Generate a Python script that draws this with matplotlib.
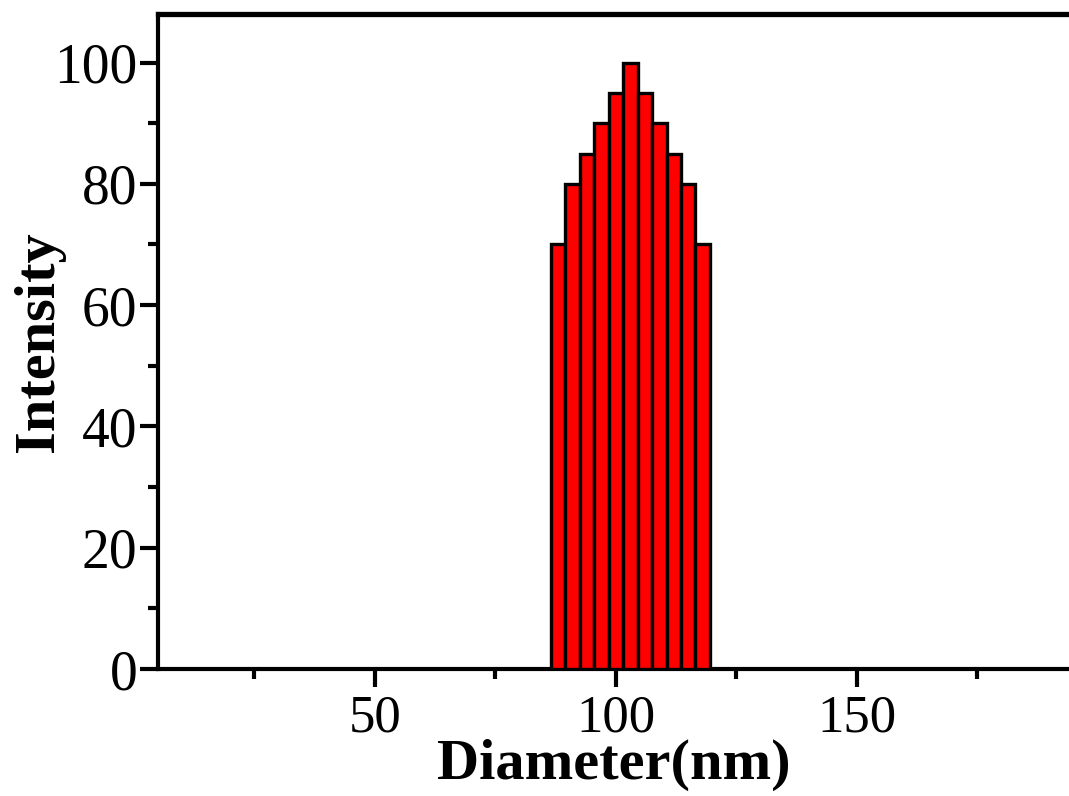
import numpy as np
import matplotlib
matplotlib.use("Agg")
import matplotlib.pyplot as plt
from matplotlib.ticker import MultipleLocator

# size distribution (bin centres in nm, intensity)
diameter = [88, 91, 94, 97, 100, 103, 106, 109, 112, 115, 118]
intensity = [70, 80, 85, 90, 95, 100, 95, 90, 85, 80, 70]
bin_width = 3

plt.rcParams['font.family'] = ['Liberation Serif', 'DejaVu Serif']

fig = plt.figure(figsize=(10.69, 7.96), dpi=100)
ax = fig.add_axes([0.1478, 0.1595, 0.8522, 0.8229])

ax.bar(diameter, intensity, width=bin_width, color='#ff0000',
       edgecolor='black', linewidth=2.4, zorder=3)

ax.set_xlim(5, 194)
ax.set_ylim(0, 108)

ax.xaxis.set_major_locator(MultipleLocator(50))
ax.xaxis.set_minor_locator(MultipleLocator(25))
ax.yaxis.set_major_locator(MultipleLocator(20))
ax.yaxis.set_minor_locator(MultipleLocator(10))

ax.tick_params(axis='both', which='major', direction='out', length=13, width=3)
ax.tick_params(axis='both', which='minor', direction='out', length=7, width=3)
ax.tick_params(axis='y', which='major', labelsize=40, pad=2)
ax.tick_params(axis='x', which='major', labelsize=38, pad=5)

for side in ['left', 'bottom']:
    ax.spines[side].set_linewidth(3)
ax.spines['top'].set_linewidth(3.8)
ax.spines['right'].set_visible(False)

ax.set_xlabel('Diameter(nm)', fontsize=42, fontweight='bold', labelpad=-2)
ax.set_ylabel('Intensity', fontsize=42, fontweight='bold', labelpad=-8)

fig.savefig('out.png', dpi=100)
